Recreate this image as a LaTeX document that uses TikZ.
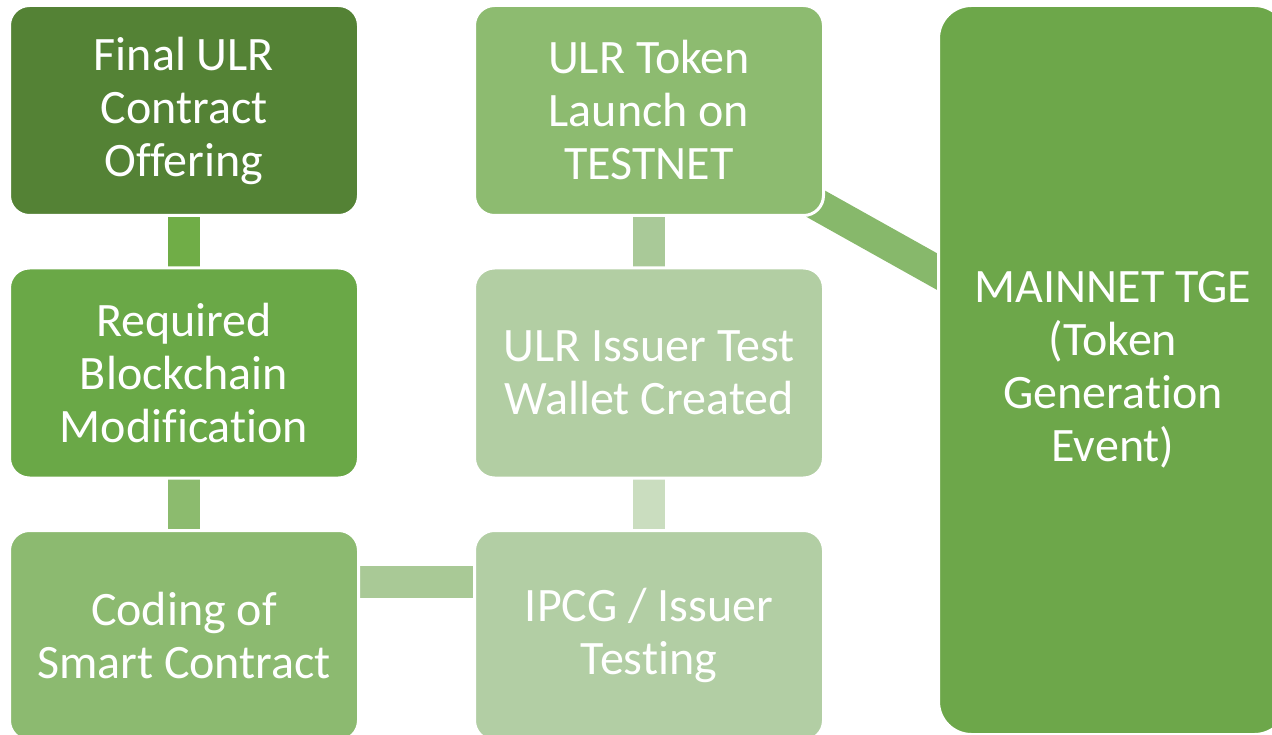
\documentclass[tikz,border=0pt]{standalone}
\usepackage{fontspec}
\setmainfont{Carlito}[Ligatures=CommonOff]
\usetikzlibrary{backgrounds}
\definecolor{cbA}{HTML}{548235}
\definecolor{cbB}{HTML}{6AA847}
\definecolor{cbC}{HTML}{8CBA70}
\definecolor{cbD}{HTML}{B2CEA4}
\definecolor{cbE}{HTML}{B2CEA3}
\definecolor{cbF}{HTML}{8DBB70}
\definecolor{cbG}{HTML}{6DA74A}
\definecolor{lnA}{HTML}{70AD47}
\definecolor{lnB}{HTML}{8CBB6E}
\definecolor{lnC}{HTML}{A9C996}
\definecolor{lnD}{HTML}{CADDBF}
\definecolor{lnE}{HTML}{A9C998}
\definecolor{lnF}{HTML}{87B86B}
\tikzset{
  stepbox/.style={rectangle, rounded corners=20pt, draw=white, line width=3pt,
    minimum width=349pt, minimum height=210pt, inner sep=0pt, text=white,
    align=center, font=\fontsize{48}{53}\selectfont},
  bigbox/.style={stepbox, rounded corners=33pt, minimum height=729pt},
  link/.style={line width=32pt, line cap=butt}
}
\begin{document}
\begin{tikzpicture}[x=1pt,y=-1pt]
\useasboundingbox (0,0) rectangle (1272,735);
\node[stepbox, fill=cbA] (b1) at (184,110.5) {Final ULR\\Contract\\Offering};
\node[stepbox, fill=cbB] (b2) at (184,373) {Required\\Blockchain\\Modification};
\node[stepbox, fill=cbC] (b3) at (184,635.5) {Coding of\\Smart Contract};
\node[stepbox, fill=cbD] (b4) at (649,635.5) {IPCG / Issuer\\Testing};
\node[stepbox, fill=cbE] (b5) at (649,373) {ULR Issuer Test\\Wallet Created};
\node[stepbox, fill=cbF] (b6) at (649,110.5) {ULR Token\\Launch on\\TESTNET};
\node[bigbox, fill=cbG] (b7) at (1113,370) {MAINNET TGE\\(Token\\Generation\\Event)};
\begin{scope}[on background layer]
\draw[link, lnA] (b1.center) -- (b2.center);
\draw[link, lnB] (b2.center) -- (b3.center);
\draw[link, lnC] ([yshift=54pt]b3.center) -- ([yshift=54pt]b4.center);
\draw[link, lnD] (b4.center) -- (b5.center);
\draw[link, lnE] (b5.center) -- (b6.center);
\draw[link, lnF] (b6.center) -- (b7.center);
\end{scope}
\end{tikzpicture}
\end{document}
